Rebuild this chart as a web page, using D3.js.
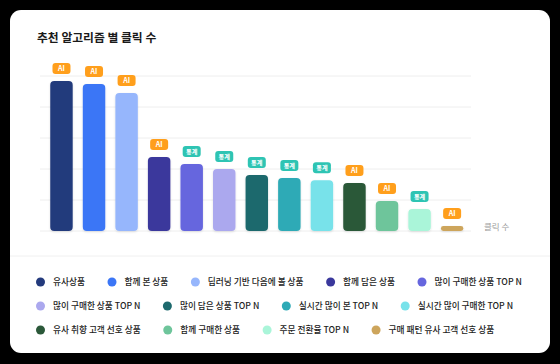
<!DOCTYPE html>
<html><head><meta charset="utf-8">
<script src="https://cdn.jsdelivr.net/npm/d3@7"></script>
<style>
html,body{margin:0;padding:0;background:#000;}
svg{display:block;font-family:"Noto Sans CJK KR","Noto Sans",sans-serif;}
</style></head>
<body>
<svg id="chart" width="560" height="364"></svg>
<script>
const categories = ["유사상품","함께 본 상품","딥러닝 기반 다음에 볼 상품","함께 담은 상품","많이 구매한 상품 TOP N","많이 구매한 상품 TOP N","많이 담은 상품 TOP N","실시간 많이 본 TOP N","실시간 많이 구매한 TOP N","유사 취향 고객 선호 상품","함께 구매한 상품","주문 전환율 TOP N","구매 패턴 유사 고객 선호 상품"];
const clicks = [4840,4740,4450,2390,2160,2000,1810,1710,1640,1550,970,710,160];
const badges = ["AI","AI","AI","AI","통계","통계","통계","통계","통계","AI","AI","통계","AI"];
const colors = ["#233a7c","#3b76f6","#96b6fc","#3a389c","#6666de","#aba8ee","#1d696d","#2eaab6","#78e2ea","#2b5839","#6ec59b","#aaf5d9","#cda55c"];
const yTicks = [0,1000,2000,3000,4000,5000];
const title = "추천 알고리즘 별 클릭 수";
const axisLabel = "클릭 수";
const badgeColors = {"AI":"#ff9f1c","통계":"#2ec4b3"};

const svg = d3.select("#chart");
const defs = svg.append("defs");
const f = defs.append("filter").attr("id","sh").attr("x","-30%").attr("y","-30%").attr("width","160%").attr("height","160%");
f.append("feDropShadow").attr("dx",0).attr("dy",1).attr("stdDeviation",1.2).attr("flood-color","#000").attr("flood-opacity",0.12);

// card
svg.append("rect").attr("x",10).attr("y",10).attr("width",540).attr("height",343).attr("rx",11).attr("fill","#fff");
svg.append("line").attr("x1",10).attr("x2",550).attr("y1",256).attr("y2",256).attr("stroke","#f0f0f0");

svg.append("text").attr("x",37).attr("y",42).attr("font-size",11.8).attr("font-weight",700).attr("fill","#1a1a1a").text(title);

const idx = categories.map((d,i)=>i);
const x = d3.scaleBand().domain(idx).range([45.2,468.4]).paddingInner(0.31).paddingOuter(0.155);
const y = d3.scaleLinear().domain([0,5000]).range([231,76]);

// gridlines
svg.append("g").selectAll("line").data(yTicks).join("line")
  .attr("x1",40).attr("x2",471).attr("y1",d=>y(d)).attr("y2",d=>y(d))
  .attr("stroke","#eeeeee").attr("stroke-width",1);

// bars
svg.append("g").selectAll("rect").data(idx).join("rect")
  .attr("x",i=>x(i)).attr("width",x.bandwidth())
  .attr("y",i=>y(clicks[i])).attr("height",i=>y(0)-y(clicks[i]))
  .attr("rx",i=>Math.min(4,(y(0)-y(clicks[i]))/2)).attr("fill",i=>colors[i]).attr("filter","url(#sh)");

// badges
const bg = svg.append("g").selectAll("g").data(idx).join("g")
  .attr("transform",i=>`translate(${x(i)+x.bandwidth()/2},${y(clicks[i])-12.5})`);
bg.append("rect").attr("x",-9).attr("y",-5.5).attr("width",18).attr("height",11).attr("rx",3)
  .attr("fill",i=>badgeColors[badges[i]]);
bg.append("text").attr("text-anchor","middle").attr("y",2.5).attr("font-size",i=>badges[i]==="AI"?7:6.2)
  .attr("font-weight",700).attr("fill","#fff").text(i=>badges[i]);

svg.append("text").attr("x",484).attr("y",230).attr("font-size",8.5).attr("fill","#999").text(axisLabel);

// legend flow
const lg = svg.append("g");
let lx = 36, ly = 282;
const maxRight = 532;
categories.forEach((c,i)=>{
  const g = lg.append("g");
  const t = g.append("text").attr("x",17).attr("y",3.2).attr("font-size",8.7).attr("font-weight",500).attr("fill","#222").text(c);
  const w = 17 + t.node().getComputedTextLength();
  if (lx + w > maxRight) { lx = 36; ly += 24; }
  g.append("circle").attr("cx",4.5).attr("cy",0).attr("r",4.5).attr("fill",colors[i]);
  g.attr("transform",`translate(${lx},${ly})`);
  lx += w + 22.5;
});
</script>
</body></html>
